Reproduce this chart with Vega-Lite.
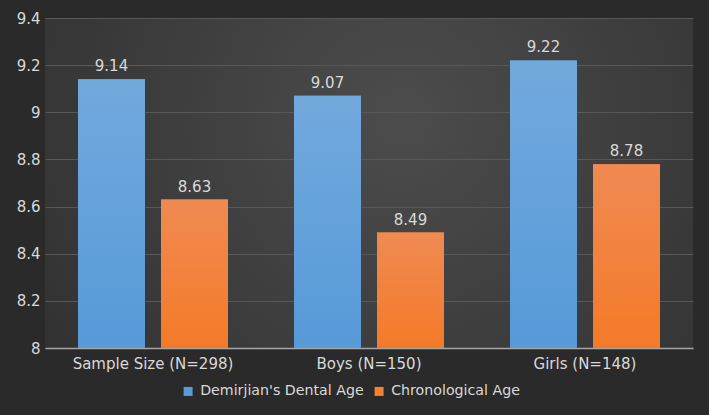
{
  "$schema": "https://vega.github.io/schema/vega-lite/v6.json",
  "width": 648,
  "height": 330,
  "autosize": {"type": "none"},
  "padding": {"left": 45, "top": 18, "right": 16, "bottom": 67},
  "background": "#2a2a2a",
  "config": {
    "font": "DejaVu Sans",
    "view": {
      "stroke": null,
      "fill": {
        "gradient": "radial",
        "x1": 0.55, "y1": 0.4, "x2": 0.55, "y2": 0.4, "r1": 0, "r2": 0.85,
        "stops": [
          {"offset": 0, "color": "#4c4c4c"},
          {"offset": 1, "color": "#2a2a2a"}
        ]
      }
    }
  },
  "data": {
    "values": [
      {"group": "Sample Size (N=298)", "series": "Demirjian's Dental Age", "value": 9.14},
      {"group": "Sample Size (N=298)", "series": "Chronological Age", "value": 8.63},
      {"group": "Boys (N=150)", "series": "Demirjian's Dental Age", "value": 9.07},
      {"group": "Boys (N=150)", "series": "Chronological Age", "value": 8.49},
      {"group": "Girls (N=148)", "series": "Demirjian's Dental Age", "value": 9.22},
      {"group": "Girls (N=148)", "series": "Chronological Age", "value": 8.78}
    ]
  },
  "encoding": {
    "x": {
      "field": "group", "type": "nominal", "sort": null,
      "scale": {"paddingInner": 0.3056, "paddingOuter": 0.1528},
      "axis": {
        "title": null, "labelAngle": 0, "ticks": false, "grid": false,
        "domainColor": "#a6a6a6", "domainWidth": 1.5,
        "labelColor": "#d9d9d9", "labelFontSize": 15, "labelPadding": 8
      }
    },
    "xOffset": {
      "field": "series", "type": "nominal",
      "sort": ["Demirjian's Dental Age", "Chronological Age"],
      "scale": {"paddingInner": 0.193, "paddingOuter": 0}
    },
    "y": {
      "field": "value", "type": "quantitative",
      "scale": {"domain": [8, 9.4], "zero": false, "nice": false},
      "axis": {
        "title": null, "values": [8, 8.2, 8.4, 8.6, 8.8, 9, 9.2, 9.4],
        "format": ".1~f", "domain": false, "ticks": false,
        "gridColor": "#585858", "gridWidth": 1,
        "labelColor": "#d9d9d9", "labelFontSize": 15, "labelPadding": 5
      }
    }
  },
  "layer": [
    {
      "mark": {"type": "bar"},
      "encoding": {
        "y2": {"datum": 8},
        "color": {
          "field": "series", "type": "nominal",
          "sort": ["Demirjian's Dental Age", "Chronological Age"],
          "scale": {"domain": ["Demirjian's Dental Age", "Chronological Age"], "range": ["#5b9bd5", "#f4812f"]},
          "legend": {
            "title": null, "orient": "none", "direction": "horizontal",
            "legendX": 136, "legendY": 366, "padding": 0,
            "symbolType": "square", "symbolSize": 81, "symbolStrokeWidth": 0,
            "labelColor": "#d9d9d9", "labelFontSize": 14.2, "labelOffset": 5,
            "labelLimit": 400, "columnPadding": 8
          }
        }
      }
    },
    {
      "mark": {"type": "bar"},
      "encoding": {
        "y2": {"datum": 8},
        "fill": {
          "condition": {
            "test": "datum.series === 'Chronological Age'",
            "value": {
              "gradient": "linear", "x1": 0, "y1": 0, "x2": 0, "y2": 1,
              "stops": [{"offset": 0, "color": "#ef8a52"}, {"offset": 1, "color": "#f47a28"}]
            }
          },
          "value": {
            "gradient": "linear", "x1": 0, "y1": 0, "x2": 0, "y2": 1,
            "stops": [{"offset": 0, "color": "#72a9dd"}, {"offset": 1, "color": "#569ad8"}]
          }
        }
      }
    },
    {
      "mark": {"type": "text", "baseline": "alphabetic", "dy": -8, "color": "#d9d9d9", "fontSize": 15},
      "encoding": {
        "text": {"field": "value", "type": "quantitative", "format": ".2f"}
      }
    }
  ]
}
